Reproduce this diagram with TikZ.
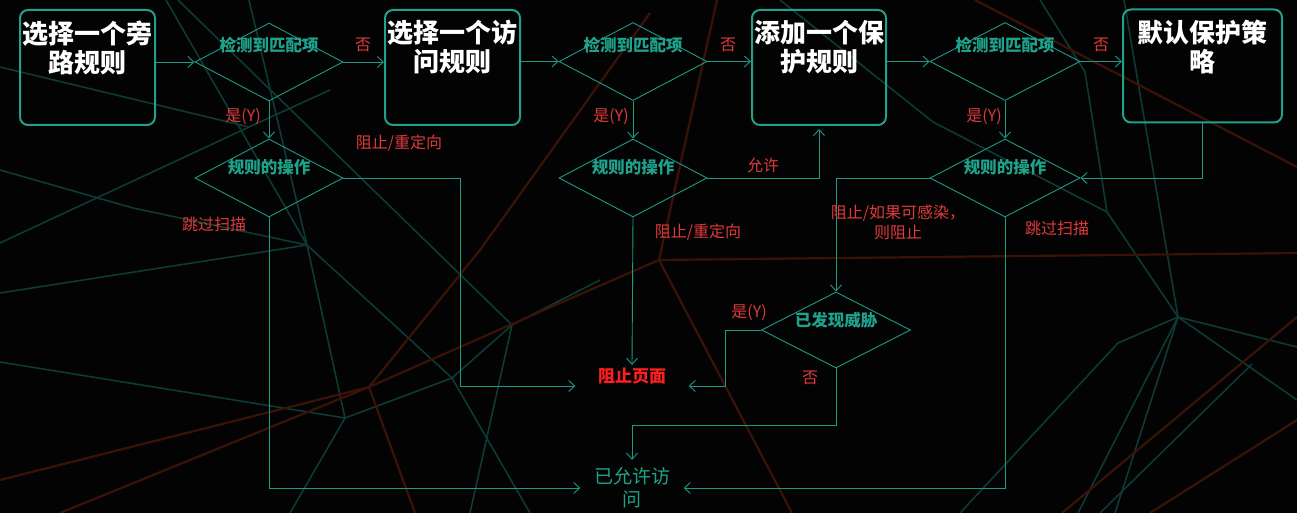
\documentclass[tikz,border=0pt]{standalone}
\usepackage{fontspec}
\setmainfont{Noto Sans CJK SC}
\usetikzlibrary{shapes.geometric,arrows.meta,calc}
\definecolor{bg}{HTML}{030303}
\definecolor{ln}{HTML}{1C9A85}
\definecolor{bx}{HTML}{22A08B}
\definecolor{tl}{HTML}{1FA28C}
\definecolor{rd}{HTML}{E03A3A}
\definecolor{brd}{HTML}{FF1E1E}
\definecolor{bgt}{HTML}{0D3A35}
\definecolor{bgr}{HTML}{3A1207}
\begin{document}
\begin{tikzpicture}[x=1pt,y=-1pt,
  box/.style={draw=bx, line width=2pt, rounded corners=8pt, minimum width=#1, minimum height=115pt, inner sep=0pt},
  dia/.style={draw=ln, line width=0.9pt, shape=diamond, inner sep=0pt, minimum width=148pt, minimum height=78pt},
  btext/.style={text=white, font=\bfseries\fontsize{26}{29}\selectfont, align=center, inner sep=0pt},
  dtext/.style={text=tl, font=\bfseries\fontsize{16.5}{20}\selectfont, inner sep=0pt},
  rtext/.style={text=rd, font=\fontsize{16}{20}\selectfont, inner sep=0pt, align=center},
  conn/.style={draw=ln, line width=0.9pt},
  arr/.style={conn, -{Straight Barb[length=6pt,width=11pt]}},
  bgteal/.style={draw=bgt, line width=1.6pt},
  bgred/.style={draw=bgr, line width=2.2pt}]
\fill[bg] (0,0) rectangle (1297,513);
\useasboundingbox (0,0) rectangle (1297,513);
% background network
\draw[bgteal] (0,293) -- (307,245);
\draw[bgteal] (0,362) -- (345,418);
\draw[bgteal] (166,0) -- (307,245) -- (345,418) -- (290,513);
\draw[bgteal] (249,0) -- (307,245);
\draw[bgteal] (0,170) -- (133,208) -- (307,245);
\draw[bgteal] (0,243) -- (249,127) -- (330,90);
\draw[bgteal] (0,67) -- (249,127);
\draw[bgteal] (178,0) -- (512,325);
\draw[bgteal] (307,245) -- (452,378) -- (512,325) -- (600,280);
\draw[bgteal] (345,418) -- (452,378) -- (530,513);
\draw[bgteal] (512,325) -- (470,513);
\draw[bgteal] (1124,0) -- (1178,317) -- (1297,347);
\draw[bgteal] (1107,212) -- (1178,317) -- (1297,400);
\draw[bgteal] (1178,317) -- (1078,513);
\draw[bgteal] (1178,317) -- (1115,513);
\draw[bgteal] (1178,317) -- (1118,343) -- (960,513);
\draw[bgteal] (1252,364) -- (1100,513);
\draw[bgteal] (1107,212) -- (1085,72) -- (1040,0);
\draw[bgteal] (933,122) -- (1107,212);
\draw[bgteal] (780,0) -- (933,122);
\draw[bgred] (0,480) -- (369,387) -- (560,303) -- (659,260);
\draw[bgred] (60,513) -- (369,387) -- (415,513);
\draw[bgred] (650,13) -- (480,250) -- (369,387);
\draw[bgred] (717,0) -- (659,260) -- (792,513);
\draw[bgred] (659,260) -- (1297,253);
\draw[bgred] (975,0) -- (1297,167);
\draw[bgred] (1297,317) -- (1062,513);
\draw[bgred] (1297,420) -- (1150,513);
% boxes
\node[box=135pt] (b1) at (87.5,67.5) {};
\node[btext] (b1t) at (87.5,47.5) {选择一个旁\\路规则};
\node[box=135pt] (b2) at (452.5,67.5) {};
\node[btext] (b2t) at (452.5,47.5) {选择一个访\\问规则};
\node[box=134pt] (b3) at (819,67.5) {};
\node[btext] (b3t) at (819,47.5) {添加一个保\\护规则};
\node[box=159pt, minimum height=113pt] (b4) at (1202.5,66) {};
\node[btext] (b4t) at (1202.5,47) {默认保护策\\略};
% diamonds
\node[dia] (d1) at (269,62) {};
\node[dtext] (d1t) at (269,45) {检测到匹配项};
\node[dia] (d2) at (633,61.5) {};
\node[dtext] (d2t) at (633,45) {检测到匹配项};
\node[dia, minimum width=150pt] (d3) at (1005,61.5) {};
\node[dtext] (d3t) at (1005,45) {检测到匹配项};
\node[dia] (r1) at (269,178) {};
\node[dtext] (r1t) at (269,167) {规则的操作};
\node[dia] (r2) at (633,178) {};
\node[dtext] (r2t) at (633,167) {规则的操作};
\node[dia, minimum width=150pt] (r3) at (1005,178) {};
\node[dtext] (r3t) at (1005,167) {规则的操作};
\node[dia, minimum width=149pt, minimum height=76pt] (th) at (836,330) {};
\node[dtext] (tht) at (836,320) {已发现威胁};
% end nodes
\node[text=brd, font=\bfseries\fontsize{17}{20}\selectfont, minimum width=113pt, minimum height=22pt, inner sep=0pt] (bp) at (632,376) {阻止页面};
\node[text=tl, font=\fontsize{19}{23}\selectfont, align=center, inner sep=0pt, minimum width=103pt, minimum height=56pt] (ok) at (632,488) {已允许访\\问};
% connectors
\draw[arr] (b1.east |- d1) -- (d1.west);
\draw[arr] (d1.east) -- (b2.west |- d1);
\draw[arr] (d1.south) -- (r1.north);
\draw[arr] (b2.east |- d2) -- (d2.west);
\draw[arr] (d2.east) -- (b3.west |- d2);
\draw[arr] (d2.south) -- (r2.north);
\draw[arr] (b3.east |- d3) -- (d3.west);
\draw[arr] (d3.east) -- (b4.west |- d3);
\draw[arr] (d3.south) -- (r3.north);
\draw[arr] (r1.east) -- (460,178) |- ($(bp.west)+(0,10)$);
\draw[arr] (r1.south) |- (ok.west);
\draw[arr, shorten >=3pt] (r2.east) -| (b3.south);
\draw[arr] (r2.south) -- (bp.north);
\draw[arr] (b4.south) |- (r3.east);
\draw[arr] (r3.west) -| (th.north);
\draw[arr] (r3.south) |- (ok.east);
\draw[arr] (th.west) -- (725,330) |- ($(bp.east)+(0,10)$);
\draw[arr] (th.south) -- (836,425) -| (ok.north);
% labels
\node[rtext] (n1) at (363,45) {否};
\node[rtext] (n2) at (728,45) {否};
\node[rtext] (n3) at (1101,45) {否};
\node[rtext] (y1) at (243,117) {是(Y)};
\node[rtext] (y2) at (611,117) {是(Y)};
\node[rtext] (y3) at (984,117) {是(Y)};
\node[rtext] (l1) at (399,143) {阻止/重定向};
\node[rtext] (l2) at (214,224) {跳过扫描};
\node[rtext] (l3) at (763,165) {允许};
\node[rtext] (l4) at (698,232) {阻止/重定向};
\node[rtext] (l5) at (898,222) {阻止/如果可感染，\\则阻止};
\node[rtext] (l6) at (1057,228) {跳过扫描};
\node[rtext] (y4) at (749,313) {是(Y)};
\node[rtext] (n4) at (810,378) {否};
\end{tikzpicture}
\end{document}
